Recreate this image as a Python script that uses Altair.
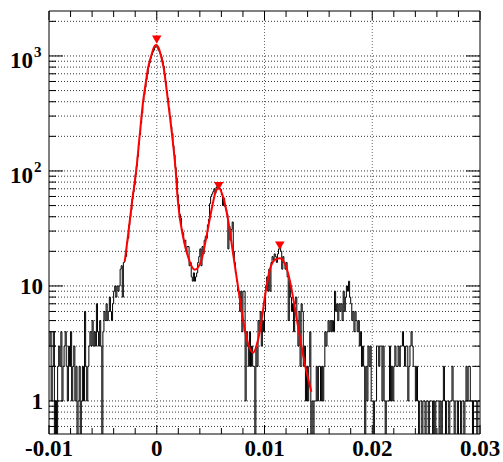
import altair as alt
import pandas as pd

W, H = 431, 423

# ---------------- data ----------------
bin_lo = -0.01
bin_width = 0.0001
counts = [
    3, 4, 1, 2, 4, 0, 1, 0, 2, 3,
    2, 4, 1, 2, 3, 4, 2, 1, 3, 2,
    4, 1, 2, 3, 1, 2, 0, 1, 2, 0,
    1, 2, 1, 6, 2, 1, 2, 3, 4, 3,
    5, 3, 4, 3, 7, 4, 3, 5, 3, 0,
    4, 6, 5, 7, 5, 6, 8, 6, 5, 7,
    9, 10, 8, 10, 9, 10, 14, 15, 8, 16,
    17, 18, 24, 26, 34, 40, 46, 57, 66, 76,
    93, 110, 133, 170, 207, 260, 318, 398, 462, 534,
    624, 701, 806, 868, 955, 1020, 1081, 1122, 1189, 1236,
    1204, 1139, 1099, 1041, 981, 884, 815, 697, 595, 494,
    430, 352, 299, 244, 212, 166, 138, 107, 87, 62,
    51, 42, 39, 31, 29, 24, 25, 20, 22, 22,
    15, 16, 12, 11, 13, 11, 12, 13, 16, 18,
    21, 15, 22, 19, 25, 27, 26, 34, 38, 52,
    60, 63, 66, 70, 64, 72, 75, 73, 71, 69,
    62, 50, 58, 49, 46, 42, 21, 33, 25, 31,
    36, 20, 16, 13, 11, 9, 9, 6, 9, 4,
    9, 9, 1, 4, 3, 2, 4, 2, 3, 2,
    2, 0, 3, 2, 5, 4, 6, 3, 5, 4,
    6, 10, 12, 9, 14, 9, 16, 18, 17, 19,
    18, 16, 19, 21, 22, 20, 14, 18, 16, 14,
    16, 12, 5, 11, 8, 6, 7, 4, 7, 8,
    5, 3, 6, 2, 7, 6, 2, 3, 1, 2,
    1, 2, 4, 0, 1, 0, 1, 1, 2, 1,
    2, 2, 1, 2, 1, 2, 4, 3, 4, 5,
    4, 5, 4, 5, 4, 9, 6, 7, 5, 7,
    6, 7, 5, 9, 6, 8, 10, 9, 11, 8,
    7, 5, 6, 4, 6, 5, 4, 5, 3, 4,
    2, 3, 2, 0, 2, 1, 3, 2, 3, 1,
    1, 0, 1, 1, 3, 3, 2, 3, 3, 1,
    3, 1, 0, 1, 1, 1, 3, 1, 2, 1,
    2, 3, 2, 2, 3, 2, 3, 3, 4, 3,
    2, 3, 3, 1, 2, 3, 4, 3, 2, 2,
    1, 2, 1, 0, 1, 1, 0, 1, 1, 0,
    1, 1, 0, 1, 1, 1, 0, 1, 0, 1,
    1, 1, 0, 1, 0, 1, 2, 1, 0, 1,
    1, 0, 1, 1, 2, 1, 0, 1, 1, 0,
    1, 1, 0, 1, 1, 0, 1, 2, 1, 2,
    2, 1, 1, 0, 1, 1, 1, 0, 1, 1,
]

fit_x = [-0.00297, -0.00266, -0.00229, -0.00188, -0.00158, -0.00127, -0.00105,
         -0.00081, -0.00049, -0.00027, -0.00006, 0.00016, 0.00037, 0.00065,
         0.00105, 0.00142, 0.00174, 0.00198, 0.00244, 0.00290, 0.00353, 0.00415,
         0.00461, 0.00508, 0.00554, 0.00578, 0.00615, 0.00662, 0.00708, 0.00754,
         0.00801, 0.00847, 0.00894, 0.00940, 0.00974, 0.01002, 0.01049, 0.01095,
         0.01141, 0.01188, 0.01234, 0.01280, 0.01327, 0.01373, 0.01435]
fit_y = [16.3, 27.8, 54.1, 105.6, 205.6, 400, 559,
         782, 1020, 1186, 1246, 1186, 1020, 782,
         400, 205.6, 105.6, 52.4, 26.8, 18.0, 13.8, 16.8,
         26.8, 45.8, 68.4, 70.8, 59.8, 37.5, 19.2, 9.86,
         5.06, 3.18, 2.63, 3.4, 5.06, 7.9, 13.8, 16.8,
         17.4, 15.7, 11.3, 6.6, 3.62, 2.13, 1.2]

peak_x = [0.0, 0.00575, 0.01142]
peak_y = [1384, 74, 22.4]

x_major = [-0.01, 0.0, 0.01, 0.02, 0.03]
x_labels = ["-0.01", "0", "0.01", "0.02", "0.03"]
x_minor = [-0.008, -0.006, -0.004, -0.002, 0.002, 0.004, 0.006, 0.008,
           0.012, 0.014, 0.016, 0.018, 0.022, 0.024, 0.026, 0.028]
x_grid = [0.0, 0.01, 0.02]

y_major = [1, 10, 100, 1000]
y_label_base = ["1", "10", "10", "10"]
y_label_exp = ["", "", "2", "3"]
y_minor = [0.6, 0.7, 0.8, 0.9,
           2, 3, 4, 5, 6, 7, 8, 9,
           20, 30, 40, 50, 60, 70, 80, 90,
           200, 300, 400, 500, 600, 700, 800, 900,
           2000]

# ---------------- tables ----------------
edges = [bin_lo + i * bin_width for i in range(len(counts))] + [0.03]
vals = counts + [counts[-1]]
df_h = pd.DataFrame({"i": list(range(len(edges))), "x": edges, "c": vals})
df_h["yp"] = df_h["c"].where(df_h["c"] > 0, 0.2)

df_fit = pd.DataFrame({"x": fit_x, "y": fit_y})
df_pk = pd.DataFrame({"x": peak_x, "y": peak_y})
df_xmaj = pd.DataFrame({"v": x_major, "t": x_labels})
df_xmin = pd.DataFrame({"v": x_minor})
df_xgrid = pd.DataFrame({"v": x_grid})
df_ymaj = pd.DataFrame({"v": y_major, "b": y_label_base, "e": y_label_exp})
df_ymin = pd.DataFrame({"v": y_minor})
df_ygrid = pd.DataFrame({"v": sorted(y_minor + y_major)})

xs = alt.Scale(domain=[-0.01, 0.03], nice=False, zero=False)
ys = alt.Scale(type="log", domain=[0.516, 2460], nice=False)

def X(f):
    return alt.X(f, type="quantitative", scale=xs, axis=None)

def Y(f):
    return alt.Y(f, type="quantitative", scale=ys, axis=None)

FONT = "Liberation Serif, Times New Roman, DejaVu Serif, serif"

hgrid = alt.Chart(df_ygrid).mark_rule(color="#000000", strokeDash=[1, 2], strokeWidth=1, opacity=0.8).encode(
    y=Y("v"), x=alt.value(0), x2=alt.value(W))
vgrid = alt.Chart(df_xgrid).mark_rule(color="#000000", strokeDash=[1, 2], strokeWidth=1, opacity=0.6).encode(
    x=X("v"), y=alt.value(0), y2=alt.value(H))

hist = alt.Chart(df_h).mark_line(interpolate="step-after", color="#000000", strokeWidth=1, clip=True).encode(
    x=X("x"), y=Y("yp"), order=alt.Order("i:Q"))

fit = alt.Chart(df_fit).mark_line(color="#ff0000", strokeWidth=2, interpolate="monotone", clip=True).encode(
    x=X("x"), y=Y("y"))

peaks = alt.Chart(df_pk).mark_point(shape="triangle-down", filled=True, color="#ff0000", size=90, opacity=1).encode(
    x=X("x"), y=Y("y"))

frame = alt.Chart(pd.DataFrame({"a": [0]})).mark_rect(fillOpacity=0, stroke="#000000", strokeWidth=1).encode(
    x=alt.value(0), x2=alt.value(W), y=alt.value(0), y2=alt.value(H))

tick_style = dict(color="#000000", strokeWidth=1)
xt_maj_b = alt.Chart(df_xmaj).mark_rule(**tick_style).encode(x=X("v"), y=alt.value(H), y2=alt.value(H - 9))
xt_maj_t = alt.Chart(df_xmaj).mark_rule(**tick_style).encode(x=X("v"), y=alt.value(0), y2=alt.value(9))
xt_min_b = alt.Chart(df_xmin).mark_rule(**tick_style).encode(x=X("v"), y=alt.value(H), y2=alt.value(H - 6))
xt_min_t = alt.Chart(df_xmin).mark_rule(**tick_style).encode(x=X("v"), y=alt.value(0), y2=alt.value(6))
yt_maj_l = alt.Chart(df_ymaj).mark_rule(**tick_style).encode(y=Y("v"), x=alt.value(0), x2=alt.value(14))
yt_maj_r = alt.Chart(df_ymaj).mark_rule(**tick_style).encode(y=Y("v"), x=alt.value(W - 14), x2=alt.value(W))
yt_min_l = alt.Chart(df_ymin).mark_rule(**tick_style).encode(y=Y("v"), x=alt.value(0), x2=alt.value(7))
yt_min_r = alt.Chart(df_ymin).mark_rule(**tick_style).encode(y=Y("v"), x=alt.value(W - 7), x2=alt.value(W))

lab = dict(font=FONT, fontWeight="bold", color="#000000")
xlab = alt.Chart(df_xmaj).mark_text(align="center", baseline="alphabetic", fontSize=23, **lab).encode(
    x=X("v"), y=alt.value(H + 21.5), text="t:N")
ylab_plain = alt.Chart(df_ymaj).transform_filter("datum.e == ''").mark_text(
    align="right", baseline="alphabetic", fontSize=23, dy=8.5, **lab).encode(
    y=Y("v"), x=alt.value(-6), text="b:N")
ylab_pow = alt.Chart(df_ymaj).transform_filter("datum.e != ''").mark_text(
    align="right", baseline="alphabetic", fontSize=23, dy=12, **lab).encode(
    y=Y("v"), x=alt.value(-16), text="b:N")
ylab_exp = alt.Chart(df_ymaj).transform_filter("datum.e != ''").mark_text(
    align="left", baseline="alphabetic", fontSize=15, dy=1, **lab).encode(
    y=Y("v"), x=alt.value(-15), text="e:N")

chart = alt.layer(
    hgrid, vgrid, hist, fit, peaks, frame,
    xt_maj_b, xt_maj_t, xt_min_b, xt_min_t,
    yt_maj_l, yt_maj_r, yt_min_l, yt_min_r,
    xlab, ylab_plain, ylab_pow, ylab_exp,
).properties(
    width=W, height=H,
    padding={"left": 49, "top": 11, "right": 23, "bottom": 28},
    autosize=alt.AutoSizeParams(type="none"),
    background="#ffffff",
).configure_view(stroke="transparent")

chart.save("out.html", embed_options={"renderer": "svg", "actions": False})
